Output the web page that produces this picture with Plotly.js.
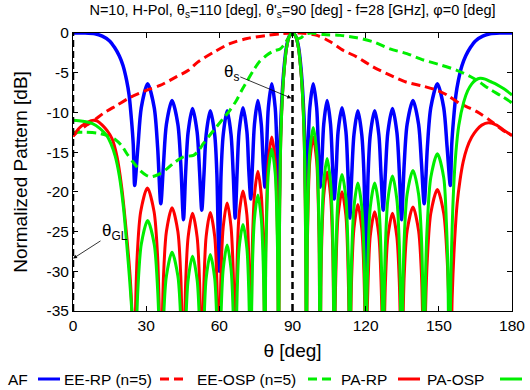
<!DOCTYPE html>
<html>
<head>
<meta charset="utf-8">
<script src="https://cdn.plot.ly/plotly-3.0.1.min.js"></script>
<style>
  html, body { margin: 0; padding: 0; background: #fff; }
  #chart { width: 530px; height: 390px; }
</style>
</head>
<body>
<div id="chart"></div>
<script>
// AF (blue)
const thetaAF = [0,5,9,12,15,17,19,20.5,22,23,24,24.7,25.3,
  26.6,28,30.6,33.3,34.7,36, 37.1,38.3,40.6,43,44.2,45.3, 46.2,47.2,49,50.9,51.9,52.8,
  53.7,54.6,56.3,58.1,59,59.9, 60.7,61.6,63.2,64.8,65.7,66.5, 67.3,68.1,69.7,71.3,72.1,72.9,
  73.6,74.4,75.8,77.2,78,78.7, 79.4,80.1,81.5,82.9,83.6,84.3,
  85,85.7,86.5,87.5,88.7,90,91.3,92.5,93.5,94.3,95,95.7,
  96.4,97.1,98.5,99.9,100.6,101.3, 102,102.8,104.2,105.6,106.4,107.1, 107.9,108.7,110.3,111.9,112.7,113.5,
  114.3,115.2,116.8,118.4,119.3,120.1, 121,121.9,123.7,125.4,126.3,127.2, 128.1,129.1,131,132.8,133.8,134.7,
  135.8,137,139.4,141.7,142.9,144, 145.3,146.7,149.4,152,153.4,154.7,
  155.3,156,157,158,159.5,161,163,165,168,171,175,180];
const dbAF = [0,0,-0.1,-0.4,-1.0,-1.8,-2.9,-4.1,-6.0,-7.8,-11,-14,-19.2,
  -14.4,-9.4,-6.4,-9.4,-14.4,-21.5, -16.5,-11.5,-8.5,-11.5,-16.5,-23.5, -17.5,-12.5,-9.5,-12.5,-17.5,-22.3,
  -17.8,-12.8,-9.8,-12.8,-17.8,-30, -17.8,-12.8,-9.8,-12.8,-17.8,-23.3, -17.4,-12.4,-9.4,-12.4,-17.4,-20.9,
  -16.5,-11.5,-8.5,-11.5,-16.5,-19.4, -14.4,-9.4,-6.4,-9.4,-14.4,-25,
  -13,-8,-4.5,-1.8,-0.4,0,-0.4,-1.8,-4.5,-8,-13,-25,
  -14.4,-9.4,-6.4,-9.4,-14.4,-19.4, -16.5,-11.5,-8.5,-11.5,-16.5,-20.9, -17.4,-12.4,-9.4,-12.4,-17.4,-23.3,
  -17.8,-12.8,-9.8,-12.8,-17.8,-30, -17.8,-12.8,-9.8,-12.8,-17.8,-22.3, -17.5,-12.5,-9.5,-12.5,-17.5,-23.5,
  -16.5,-11.5,-8.5,-11.5,-16.5,-21.5, -14.4,-9.4,-6.4,-9.4,-14.4,-19.2,
  -14,-11,-7.8,-6.0,-4.1,-2.9,-1.8,-1.0,-0.4,-0.1,0,0];

// EE-RP (n=5), red dashed
const thetaEERP = [0,2.5,5.6,9,12.5,18,23.5,30.3,35.7,42.5,47.3,51,57.8,64.6,71.4,79.6,85,90,93,100,105.5,
  110.9,116.3,123.2,130,136.8,143.6,149.2,153.3,158.7,165.6,171,176.5,180];
const dbEERP = [-13,-12.3,-11.6,-10.9,-10.1,-9.1,-8.1,-7.2,-6.6,-5.5,-4.7,-3.7,-2.4,-1.3,-0.7,-0.3,-0.1,0,0,-0.3,-1.1,
  -2.2,-3.0,-4.3,-5.3,-6.2,-6.7,-7.2,-7.8,-8.9,-9.9,-11,-12.3,-12.9];

// EE-OSP (n=5), green dashed
const thetaEEOSP = [0,5,10,13.8,17.3,20,22.1,25,27.5,30,31.6,33.5,35.7,38.5,41.2,45.3,49.4,51.5,53.5,56,58.9,61.5,
  64.4,67,69.2,71.5,74,76.5,79.4,82,84.9,87,89,90.5,92,93.5,95,97.4,102.8,109.6,116.4,123,130,136.9,143.7,
  150.5,157.4,164.2,171,175.5,180];
const dbEEOSP = [-12.5,-12.5,-12.6,-12.9,-13.4,-14.2,-15.2,-16.4,-17.3,-17.9,-18.1,-18,-17.7,-17.1,-16.4,-15.6,-15.4,-14.8,-13.9,-12.9,-11.8,-10.8,
  -9.7,-8.5,-7.2,-6,-4.7,-3.6,-2.8,-2.3,-2,-1.3,-0.3,-0.2,-0.7,-0.6,-0.2,0,-0.2,-0.3,-0.6,-1.1,-2,-2.6,-3.4,
  -4.0,-4.7,-5.7,-7.1,-7.9,-8.8];

// PA-RP, red solid
const thetaPARP = [0,2.5,5,8,10,12,14,16,18,20,22,23.5,24.4,25,
  25.7,26.3,27.75,30.5,33.25,34.7,35.3,36, 36.6,37.1,38.3,40.6,43,44.2,44.7,45.3,
  45.75,46.2,47.2,49,50.9,51.9,52.35,52.8, 53.2,53.7,54.6,56.3,58.1,59,59.5,59.9,
  60.3,60.7,61.6,63.2,64.8,65.7,66.1,66.5, 66.9,67.3,68.1,69.7,71.3,72.1,72.5,72.9,
  73.25,73.6,74.4,75.8,77.2,78,78.35,78.7, 79,79.4,80.1,81.5,82.9,83.6,83.95,84.3,
  84.6,85,85.7,86.5,87.5,88.7,90,91.3,92.5,93.5,94.3,95,95.4,95.7,
  96.05,96.4,97.1,98.5,99.9,100.6,100.95,101.3, 101.65,102,102.8,104.2,105.6,106.4,106.75,107.1,
  107.5,107.9,108.7,110.3,111.9,112.7,113.1,113.5, 113.9,114.3,115.2,116.8,118.4,119.3,119.7,120.1,
  120.5,121,121.9,123.7,125.4,126.3,126.8,127.2, 127.65,128.1,129.1,131,132.8,133.8,134.25,134.7,
  135.3,135.8,137,139.4,141.7,142.9,143.4,144, 144.6,145.3,146.7,149.4,152,153.4,154.1,154.7,
  155.5,156.5,157.5,158.7,160,161.5,163.5,165.5,167.6,170.3,173.7,176.5,180];
const dbPARP = [-13,-12,-11.4,-11,-11.1,-11.6,-12.3,-13.3,-15.5,-19.5,-25.5,-31,-37,-45,
  -34,-28.2,-22.5,-19.5,-22.5,-28.2,-34,-45, -36.6,-30.7,-25,-22,-25,-30.7,-36.6,-45,
  -37.3,-31.4,-25.7,-22.7,-25.7,-31.4,-37.3,-45, -37.2,-31.3,-25.6,-22.6,-25.6,-31.3,-37.2,-45,
  -36,-30.1,-24.4,-21.4,-24.4,-30.1,-36,-45, -34.5,-28.6,-22.9,-19.9,-22.9,-28.6,-34.5,-45,
  -32,-26.1,-20.4,-17.4,-20.4,-26.1,-32,-45, -27.7,-21.8,-16.1,-13.1,-16.1,-21.8,-27.7,-45,
  -27,-16,-9,-5,-2,-0.4,0,-0.4,-2,-5,-9,-16,-27,-45,
  -27.7,-21.8,-16.1,-13.1,-16.1,-21.8,-27.7,-45, -32.1,-26.2,-20.5,-17.5,-20.5,-26.2,-32.1,-45,
  -34.6,-28.7,-23,-20,-23,-28.7,-34.6,-45, -36.2,-30.3,-24.6,-21.6,-24.6,-30.3,-36.2,-45,
  -37.1,-31.2,-25.5,-22.5,-25.5,-31.2,-37.1,-45, -37.3,-31.4,-25.7,-22.7,-25.7,-31.4,-37.3,-45,
  -36.5,-30.6,-24.9,-21.9,-24.9,-30.6,-36.5,-45, -34.3,-28.4,-22.7,-19.7,-22.7,-28.4,-34.3,-45,
  -33,-26,-21.5,-18.5,-16.2,-14.5,-13.1,-12.2,-11.6,-11.3,-11.6,-12.2,-12.9];

// PA-OSP, green solid
const thetaPAOSP = [0,4,8,11,13.8,15.5,17.3,19,20.7,22,23.2,24.3,25.3,
  25.95,26.6,28,30.6,33.3,34.7,35.4,36, 36.6,37.1,38.3,40.6,43,44.2,44.7,45.3,
  46.2,47.2,49,50.9,51.9,52.8, 53.7,54.6,56.3,58.1,59,59.9, 60.7,61.6,63.2,64.8,65.7,66.5,
  66.9,67.3,68.1,69.7,71.3,72.1,72.5,72.9, 73.25,73.6,74.4,75.8,77.2,78,78.35,78.7,
  79,79.4,80.1,81.5,82.9,83.6,83.95,84.3,
  84.6,85,85.7,86.5,87.5,88.7,90,91.3,92.5,93.5,94.3,95,95.4,95.7,
  96.05,96.4,97.1,98.5,99.9,100.6,100.95,101.3, 101.65,102,102.8,104.2,105.6,106.4,106.75,107.1,
  107.5,107.9,108.7,110.3,111.9,112.7,113.1,113.5, 113.9,114.3,115.2,116.8,118.4,119.3,119.7,120.1,
  120.5,121,121.9,123.7,125.4,126.3,126.8,127.2, 127.65,128.1,129.1,131,132.8,133.8,134.25,134.7,
  135.3,135.8,137,139.4,141.7,142.9,143.4,144, 144.6,145.3,146.7,149.4,152,153.1,153.7,154.3,
  155,156,157,158.2,160.2,161.8,163.5,165.2,166.9,169,171,173.8,176.5,180];
const dbPAOSP = [-11,-11.1,-11.4,-12,-12.9,-13.9,-15.5,-18,-22,-26.5,-31,-36,-45,
  -38,-32.3,-26.6,-23.6,-26.6,-32.3,-38,-45, -42,-36.3,-30.6,-27.6,-30.6,-36.3,-42,-45,
  -36.8,-31.1,-28.1,-31.1,-36.8,-45, -36.6,-30.9,-27.9,-30.9,-36.6,-45, -35.4,-29.7,-26.7,-29.7,-35.4,-45,
  -38.7,-32.8,-27.1,-24.1,-27.1,-32.8,-38.7,-45, -35,-29.1,-23.4,-20.4,-23.4,-29.1,-35,-45,
  -29.2,-23.3,-17.6,-14.6,-17.6,-23.3,-29.2,-45,
  -27,-16,-9,-5,-2,-0.4,0,-0.4,-2,-5,-9,-16,-27,-45,
  -26.5,-20.6,-14.9,-11.9,-14.9,-20.6,-26.5,-45, -30.4,-24.5,-18.8,-15.8,-18.8,-24.5,-30.4,-45,
  -32.4,-26.5,-20.8,-17.8,-20.8,-26.5,-32.4,-45, -33.5,-27.6,-21.9,-18.9,-21.9,-27.6,-33.5,-45,
  -33.5,-27.6,-21.9,-18.9,-21.9,-27.6,-33.5,-45, -32.6,-26.7,-21,-18,-21,-26.7,-32.6,-45,
  -31.9,-26,-20.3,-17.3,-20.3,-26,-31.9,-45, -29.8,-23.9,-18.2,-15.2,-18.2,-23.9,-29.8,-45,
  -30,-20,-15,-11.6,-8.7,-7.3,-6.4,-5.9,-5.7,-5.8,-6.1,-6.5,-7,-7.8];

// marker angles (grating lobe at 0, scan at 90)
const thetaGL = 0;
const thetaS = 90;

const xTicks = [0, 30, 60, 90, 120, 150, 180];
const yTicks = [-35, -30, -25, -20, -15, -10, -5, 0];
const yTickText = ['-35', '-30', '-25', '-20', '-15', '-10', '-5', '0'];

const seriesNames = ['AF', 'EE-RP (n=5)', 'EE-OSP (n=5)', 'PA-RP', 'PA-OSP'];
const blue = '#0000ff', red = '#ff0000', green = '#00ee00';

const traces = [
  { x: thetaAF, y: dbAF, color: blue, dash: 'solid', width: 3.5 },
  { x: thetaEERP, y: dbEERP, color: red, dash: '9px,5px', width: 3 },
  { x: thetaEEOSP, y: dbEEOSP, color: green, dash: '9px,5px', width: 3 },
  { x: thetaPARP, y: dbPARP, color: red, dash: 'solid', width: 3 },
  { x: thetaPAOSP, y: dbPAOSP, color: green, dash: 'solid', width: 3 }
].map((s, i) => ({
  type: 'scatter',
  mode: 'lines',
  name: seriesNames[i],
  x: s.x,
  y: s.y,
  line: { color: s.color, width: s.width, dash: s.dash, shape: 'spline', smoothing: 0.8 },
  showlegend: false,
  hoverinfo: 'skip'
}));

[thetaGL, thetaS].forEach(t => {
  traces.push({
    type: 'scatter', mode: 'lines',
    x: [t, t], y: [-35, 0],
    line: { color: '#000', width: 2.5, dash: '7px,4px' },
    showlegend: false, hoverinfo: 'skip'
  });
});

// plot area in pixels, used to place the hand-made legend (gnuplot style: label then sample)
const plotL = 73, plotR = 512, plotT = 33, plotB = 311;
const px = x => (x - plotL) / (plotR - plotL);
const py = y => (plotB - y) / (plotB - plotT);

const legendTextX = [6, 62, 195, 339, 425];
const legendSample = [[38, 60], [160, 188], [308, 332], [398, 420], [500, 522]];
const legendY = 379;

const annotations = seriesNames.map((n, i) => ({
  xref: 'paper', yref: 'paper',
  x: px(legendTextX[i]), y: py(legendY),
  xanchor: 'left', yanchor: 'middle',
  text: n, showarrow: false,
  font: { size: 15.5 }
}));

annotations.push({
  x: 89.5, y: -8.2, xref: 'x', yref: 'y',
  text: 'θ<sub>s</sub>', showarrow: true,
  ax: -60, ay: -25, arrowhead: 2, arrowsize: 1, arrowwidth: 0.8, arrowcolor: '#000',
  font: { size: 17 }
});
annotations.push({
  x: 0, y: -28.4, xref: 'x', yref: 'y',
  text: 'θ<sub>GL</sub>', showarrow: true,
  ax: 42, ay: -27, arrowhead: 2, arrowsize: 1, arrowwidth: 0.8, arrowcolor: '#000',
  font: { size: 17 }
});

const shapes = legendSample.map((s, i) => ({
  type: 'line', xref: 'paper', yref: 'paper',
  x0: px(s[0]), x1: px(s[1]), y0: py(legendY), y1: py(legendY),
  line: { color: traces[i].line.color, width: 3, dash: traces[i].line.dash }
}));

const layout = {
  width: 530,
  height: 390,
  margin: { l: plotL, r: 530 - plotR, t: plotT, b: 390 - plotB, pad: 0 },
  paper_bgcolor: '#fff',
  plot_bgcolor: '#fff',
  font: { family: 'Liberation Sans, Arial, sans-serif', size: 15.5, color: '#000' },
  title: {
    text: "N=10, H-Pol, θ<sub>s</sub>=110 [deg], θ'<sub>s</sub>=90 [deg] - f=28 [GHz], φ=0 [deg]",
    font: { size: 14.5 },
    x: 0.5, xref: 'paper', y: 0.975, yanchor: 'middle'
  },
  xaxis: {
    range: [0, 180],
    tickvals: xTicks,
    ticks: 'inside', ticklen: 5, tickcolor: '#000',
    mirror: 'ticks', showline: true, linecolor: '#000', linewidth: 1,
    showgrid: false, zeroline: false,
    title: { text: 'θ [deg]', standoff: 11 }
  },
  yaxis: {
    range: [-35, 0],
    tickvals: yTicks, ticktext: yTickText,
    ticks: 'inside', ticklen: 5, tickcolor: '#000',
    mirror: 'ticks', showline: true, linecolor: '#000', linewidth: 1,
    showgrid: false, zeroline: false,
    title: { text: 'Normalized Pattern [dB]', standoff: 13 }
  },
  annotations: annotations,
  shapes: shapes,
  showlegend: false
};

Plotly.newPlot('chart', traces, layout, { displayModeBar: false, staticPlot: true });
</script>
</body>
</html>
